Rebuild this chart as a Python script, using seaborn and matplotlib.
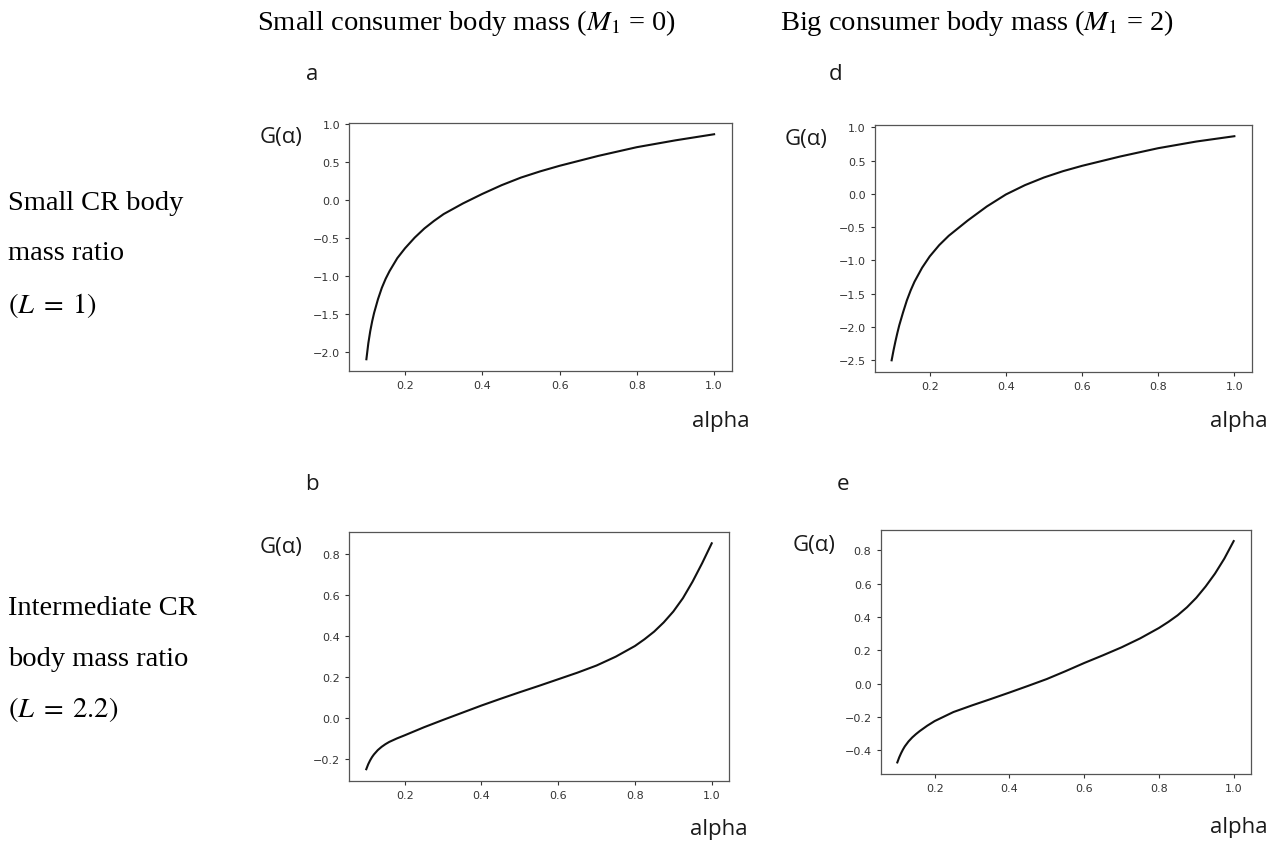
import matplotlib
matplotlib.use("Agg")
import matplotlib.pyplot as plt
import seaborn as sns

# alpha values (denser where the curves are steep)
alpha_top = [0.10, 0.105, 0.11, 0.115, 0.12, 0.13, 0.14, 0.15, 0.16, 0.18, 0.20, 0.225, 0.25,
             0.275, 0.30, 0.35, 0.40, 0.45, 0.50, 0.55, 0.60, 0.70, 0.80, 0.90, 1.00]
g_a = [-2.10, -1.89, -1.73, -1.60, -1.49, -1.31, -1.16, -1.04, -0.94, -0.77, -0.64, -0.50, -0.38,
       -0.28, -0.19, -0.05, 0.075, 0.19, 0.29, 0.372, 0.445, 0.575, 0.69, 0.78, 0.86]
g_d = [-2.50, -2.35, -2.215, -2.09, -1.975, -1.78, -1.60, -1.45, -1.32, -1.11, -0.94, -0.77, -0.63,
       -0.515, -0.40, -0.19, -0.01, 0.13, 0.245, 0.34, 0.42, 0.56, 0.685, 0.785, 0.865]

alpha_bot = [0.10, 0.105, 0.11, 0.115, 0.12, 0.13, 0.14, 0.15, 0.16, 0.18, 0.20, 0.25, 0.30, 0.35,
             0.40, 0.45, 0.50, 0.55, 0.60, 0.65, 0.70, 0.75, 0.80, 0.825, 0.85, 0.875, 0.90, 0.925,
             0.95, 0.975, 1.00]
g_b = [-0.25, -0.226, -0.207, -0.191, -0.178, -0.157, -0.141, -0.128, -0.117, -0.1, -0.085, -0.046,
       -0.01, 0.025, 0.06, 0.093, 0.125, 0.156, 0.188, 0.22, 0.255, 0.298, 0.35, 0.383, 0.42, 0.465,
       0.518, 0.583, 0.663, 0.753, 0.85]
g_e = [-0.472, -0.442, -0.417, -0.395, -0.376, -0.346, -0.322, -0.302, -0.284, -0.252, -0.224, -0.17,
       -0.13, -0.092, -0.053, -0.013, 0.028, 0.075, 0.124, 0.17, 0.218, 0.272, 0.334, 0.37, 0.41,
       0.458, 0.515, 0.583, 0.66, 0.75, 0.855]

col_titles = ["Small consumer body mass ($M_1$ = 0)", "Big consumer body mass ($M_1$ = 2)"]
row_labels = [["Small CR body", "mass ratio", r"$(L\;=\;1)$"],
              ["Intermediate CR", "body mass ratio", r"$(L\;=\;2.2)$"]]
panel_letters = ["a", "d", "b", "e"]

W, H = 1286, 845
plt.rcParams["mathtext.fontset"] = "stix"
fig = plt.figure(figsize=(W / 100, H / 100), dpi=100)


def px(x, y):
    return x / W, 1 - y / H


def add_panel(box, xs, ys):
    left, top, right, bottom = box
    ax = fig.add_axes([left / W, 1 - bottom / H, (right - left) / W, (bottom - top) / H])
    sns.lineplot(x=xs, y=ys, ax=ax, color="#111111", linewidth=1.5)
    ax.lines[0].set_solid_joinstyle("round")
    ax.tick_params(labelsize=8, length=3, width=0.8, colors="#333333", labelcolor="#333333")
    for s in ax.spines.values():
        s.set_color("#555555")
        s.set_linewidth(0.9)
    return ax


# pixel boxes (left, top, right, bottom) of each panel
panels = [
    ((349, 124, 731.5, 371.5), alpha_top, g_a),
    ((874.5, 126, 1251.5, 372.5), alpha_top, g_d),
    ((349, 533, 729, 781.5), alpha_bot, g_b),
    ((880.5, 531, 1250.5, 774.5), alpha_bot, g_e),
]
for box, xs, ys in panels:
    add_panel(box, xs, ys)

label_font = dict(family=["Open Sans", "DejaVu Sans"], fontsize=16, color="#1a1a1a")
letter_pos = [(306, 75), (829, 75), (305, 485), (837, 485)]
for (x, y), letter in zip(letter_pos, panel_letters):
    fig.text(*px(x, y), letter, ha="left", va="center", **label_font)

galpha_pos = [(260, 137), (785, 139), (260, 548), (793, 546)]
for x, y in galpha_pos:
    fig.text(*px(x, y), "G(α)", ha="left", va="center", **label_font)

alpha_pos = [(750, 421), (1268, 421), (748, 830), (1268, 828)]
for x, y in alpha_pos:
    fig.text(*px(x, y), "alpha", ha="right", va="center", **label_font)

serif = dict(family=["Liberation Serif", "DejaVu Serif"], fontsize=20.5, color="black")
fig.text(*px(257, 23), col_titles[0], ha="left", va="center", **serif)
fig.text(*px(780, 23), col_titles[1], ha="left", va="center", **serif)

row_y = [[203, 253, 305], [609, 660, 710]]
for lines, ys in zip(row_labels, row_y):
    for txt, y in zip(lines, ys):
        fig.text(*px(8, y), txt, ha="left", va="center", **serif)

fig.savefig("out.png", dpi=100, facecolor="white")
